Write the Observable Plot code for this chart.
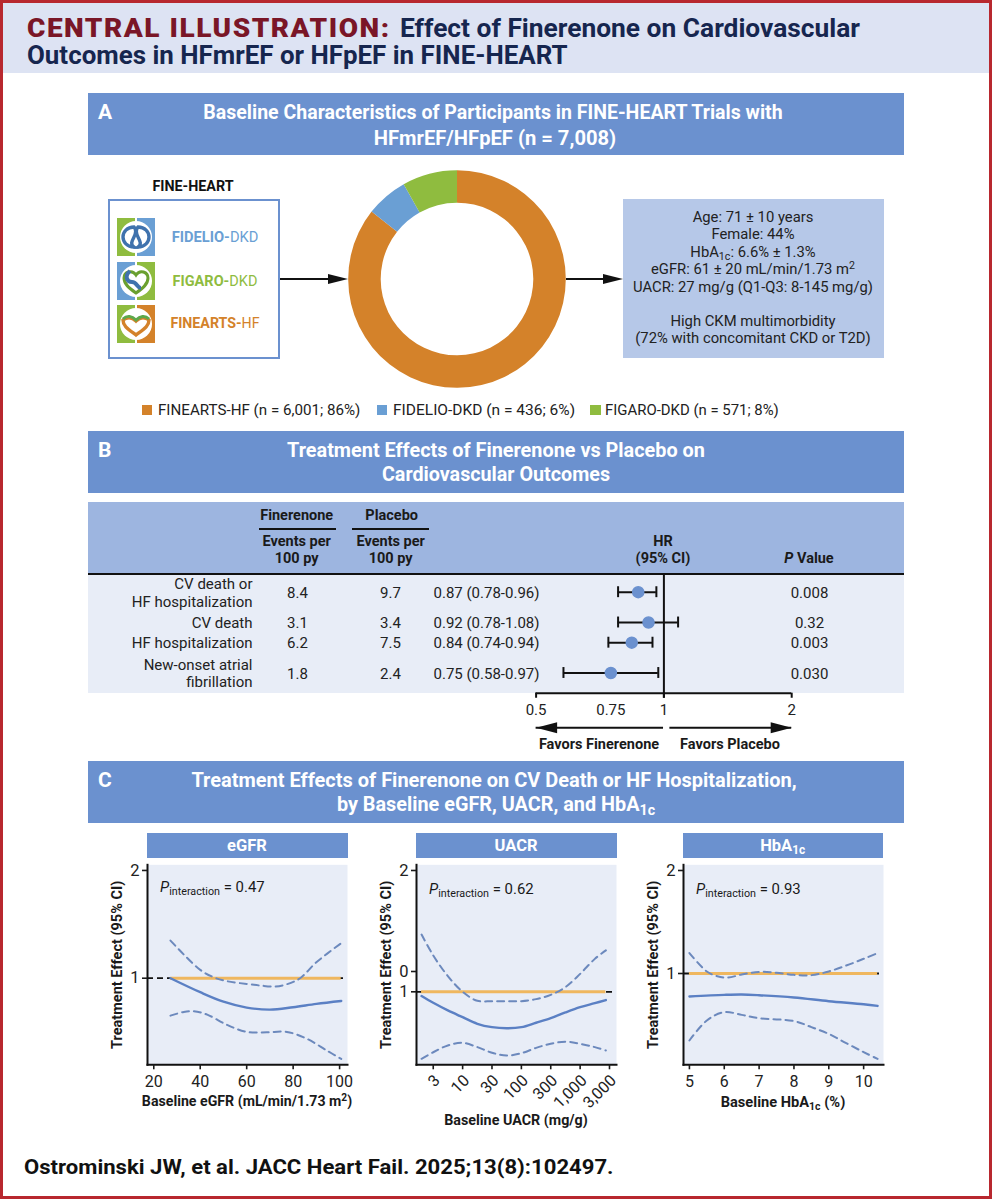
<!DOCTYPE html>
<html lang="en">
<head>
<meta charset="utf-8">
<title>Effect of Finerenone on Cardiovascular Outcomes in HFmrEF or HFpEF in FINE-HEART</title>
<script src="https://cdn.jsdelivr.net/npm/d3@7"></script>
<script src="https://cdn.jsdelivr.net/npm/@observablehq/plot@0.6"></script>
<style>
  html, body { margin: 0; padding: 0; background: #fff; }
  #page { position: relative; width: 992px; height: 1200px; overflow: hidden; background: #fff;
          font-family: Roboto, "Noto Sans", sans-serif; color: #1a1a1a; }
  #page > * { position: absolute; }
  .lab { white-space: nowrap; line-height: 1; }
  .lab sub { font-size: .72em; line-height: 0; vertical-align: -.28em; }
  .lab sup { font-size: .72em; line-height: 0; vertical-align: .42em; }
</style>
</head>
<body>
<div id="page"></div>
<script>
// ---------- DATA ----------
const trials = ["FINEARTS-HF", "FIDELIO-DKD", "FIGARO-DKD"];
const trialN = [6001, 436, 571];
const trialPct = [86, 6, 8];

const outcomes = ["CV death or\nHF hospitalization", "CV death", "HF hospitalization", "New-onset atrial\nfibrillation"];
const outcomeLines = [2, 1, 1, 2];
const finerenoneEvents = ["8.4", "3.1", "6.2", "1.8"];
const placeboEvents = ["9.7", "3.4", "7.5", "2.4"];
const hazardRatio = [0.87, 0.92, 0.84, 0.75];
const ciLow = [0.78, 0.78, 0.74, 0.58];
const ciHigh = [0.96, 1.08, 0.94, 0.97];
const pValues = ["0.008", "0.32", "0.003", "0.030"];
const hrTicks = [0.5, 0.75, 1, 2];
const hrStems = [0.5, 1, 2];

const egfrSolid = [[27.2,1.0],[40,0.914],[50,0.86],[60,0.828],[70,0.817],[80,0.83],[90,0.848],[100.7,0.864]];
const egfrUpper = [[27.2,1.274],[32.9,1.165],[40,1.055],[45.8,1.006],[51.5,0.981],[60,0.964],[65.9,0.954],[72.3,0.948],[77.3,0.962],[83,1.0],[90,1.108],[100.7,1.253]];
const egfrLower = [[27.2,0.786],[32.9,0.805],[37.2,0.809],[43,0.791],[51.5,0.741],[60,0.708],[68.7,0.706],[77.3,0.708],[86,0.677],[94.5,0.628],[100.7,0.595]];

const uacrSolid = [[2,0.976],[3.16,0.939],[5.6,0.899],[10,0.865],[17.8,0.833],[31.6,0.817],[56,0.812],[100,0.817],[178,0.838],[316,0.86],[562,0.889],[1000,0.916],[1778,0.937],[2740,0.954]];
const uacrUpper = [[2,1.387],[3.16,1.231],[5.6,1.094],[10,1.0],[17.8,0.95],[31.6,0.948],[56,0.948],[100,0.948],[178,0.959],[316,0.983],[562,1.027],[1000,1.108],[1778,1.207],[2740,1.267]];
const uacrLower = [[2,0.682],[3.16,0.708],[5.6,0.736],[10,0.747],[17.8,0.729],[31.6,0.706],[56,0.695],[100,0.704],[178,0.726],[316,0.743],[562,0.752],[1000,0.743],[1778,0.729],[2740,0.715]];

const hba1cSolid = [[5,0.857],[6,0.866],[6.5,0.868],[7,0.864],[8,0.851],[9,0.83],[10,0.813],[10.4,0.804]];
const hba1cUpper = [[5,1.147],[5.5,1.0135],[5.8,0.982],[6.1,0.973],[6.5,0.993],[7,1.011],[7.5,1.005],[8,0.991],[8.5,0.989],[9,1.014],[9.5,1.055],[10,1.104],[10.4,1.147]];
const hba1cLower = [[5,0.637],[5.5,0.729],[6,0.771],[6.5,0.757],[7,0.74],[8,0.726],[8.5,0.697],[9,0.666],[9.5,0.626],[10,0.589],[10.4,0.563]];

const egfrTicks = [20, 40, 60, 80, 100];
const uacrTicks = [3.16, 10, 31.6, 100, 316, 1000, 3160];
const uacrTickLabels = ["3", "10", "30", "100", "300", "1,000", "3,000"];
const hba1cTicks = [5, 6, 7, 8, 9, 10];

const baselineLines = ["Age: 71 ± 10 years", "Female: 44%", "HbA<sub>1c</sub>: 6.6% ± 1.3%",
  "eGFR: 61 ± 20 mL/min/1.73 m<sup>2</sup>", "UACR: 27 mg/g (Q1-Q3: 8-145 mg/g)"];
const morbidityLines = ["High CKM multimorbidity", "(72% with concomitant CKD or T2D)"];

// ---------- STYLE ----------
const FONT = "Roboto, 'Noto Sans', sans-serif";
const ORANGE = "#d4822a", BLUE = "#6a9fd4", GREEN = "#8fbc3f";
const HEADER = "#6b91cf", TABLEHEAD = "#9db5e0", PALE = "#e8edf7", INFO = "#b6c8e8";
const RED = "#b8282f", NAVY = "#16264f", MAROON = "#7a1627";
const LINEBLUE = "#5b80c4", DASHBLUE = "#6c89bd", REFLINE = "#efb75f";
const trialColor = Plot.scale({color: {domain: trials, range: [ORANGE, BLUE, GREEN]}});

const page = document.getElementById("page");
function box(x, y, w, h, css) {
  const d = document.createElement("div");
  d.style.cssText = `left:${x}px;top:${y}px;width:${w}px;height:${h}px;box-sizing:border-box;${css || ""}`;
  page.appendChild(d);
  return d;
}
function label(html, x, y, o = {}) {
  const d = document.createElement("div");
  d.className = "lab";
  d.innerHTML = html;
  const a = o.anchor || "middle";
  d.style.left = x + "px";
  d.style.top = y + "px";
  d.style.fontSize = (o.size || 15) + "px";
  d.style.fontWeight = o.weight || 400;
  d.style.color = o.color || "#1a1a1a";
  if (o.spacing) d.style.letterSpacing = o.spacing + "px";
  page.appendChild(d);
  const tx = a === "middle" ? "-50%" : a === "end" ? "-100%" : "0";
  let sx = "";
  if (o.fit) { sx = ` scaleX(${o.fit / d.offsetWidth})`; d.style.transformOrigin = a === "middle" ? "center" : a === "end" ? "right" : "left"; }
  d.style.transform = `translate(${tx},-50%)${sx}`;
  return d;
}
function place(svg, x, y) {
  svg.style.left = x + "px";
  svg.style.top = y + "px";
  svg.style.position = "absolute";
  page.appendChild(svg);
}

// ---------- FRAME & TITLE ----------
box(0, 0, 992, 73, "background:#dde3f3");
label("CENTRAL ILLUSTRATION:", 27, 27.5, {anchor: "start", size: 26, weight: 900, color: MAROON, spacing: 1.4, fit: 364});
label("Effect of Finerenone on Cardiovascular", 400, 27.5, {anchor: "start", size: 26, weight: 700, color: NAVY, fit: 460});
label("Outcomes in HFmrEF or HFpEF in FINE-HEART", 27, 55, {anchor: "start", size: 26, weight: 700, color: NAVY, fit: 541});

function sectionHeader(letter, y, lines) {
  box(88, y, 816, 62, `background:${HEADER}`);
  label(letter, 98, y + 19.5, {anchor: "start", size: 21, weight: 700, color: "#fff"});
  lines.forEach(l => label(l.t, l.c, y + l.dy, {size: 20.5, weight: 700, color: "#fff", fit: l.w}));
}
sectionHeader("A", 92.7, [
  {t: "Baseline Characteristics of Participants in FINE-HEART Trials with", c: 493, dy: 19.5, w: 579},
  {t: "HFmrEF/HFpEF (n = 7,008)", c: 495, dy: 45, w: 242}]);
sectionHeader("B", 430.7, [
  {t: "Treatment Effects of Finerenone vs Placebo on", c: 496, dy: 19.5, w: 418},
  {t: "Cardiovascular Outcomes", c: 496, dy: 43.5, w: 228}]);
sectionHeader("C", 760.7, [
  {t: "Treatment Effects of Finerenone on CV Death or HF Hospitalization,", c: 494, dy: 19.5, w: 605},
  {t: "by Baseline eGFR, UACR, and HbA<sub>1c</sub>", c: 496, dy: 43.5, w: 318}]);

// ---------- PANEL A ----------
label("FINE-HEART", 193, 186, {size: 15, weight: 700, color: "#111", fit: 81});
box(107.5, 198.5, 172, 160, `border:2px solid ${HEADER};background:#fff`);

const icons = [
  {left: GREEN, right: BLUE, y: 218.3,
   art: `<path d="M17 9c-7 0-11 5-11 10s4 10 11 10c-4-3-2-6 0-10s3-7 0-10z" fill="none" stroke="#3f72ad" stroke-width="3.4"/>
         <path d="M21 9c7 0 11 5 11 10s-4 10-11 10c4-3 2-6 0-10s-3-7 0-10z" fill="none" stroke="#3f72ad" stroke-width="3.4"/>`},
  {left: BLUE, right: GREEN, y: 262.3,
   art: `<path d="M19 31c-7-5-12-9-12-15 0-6 8-9 12-3 4-6 12-3 12 3 0 6-5 10-12 15z" fill="none" stroke="#6aa02f" stroke-width="3"/>
         <path d="M13 9c-6 5-3 11 2 11 5 0 5 6 9 6" fill="none" stroke="#3f72ad" stroke-width="4"/>`},
  {left: GREEN, right: ORANGE, y: 305,
   art: `<path d="M19 30C11 24 6 21 6 15c4-3 9-3 13 1 4-4 9-4 13-1 0 6-5 9-13 15z" fill="#fff" stroke="${ORANGE}" stroke-width="3.4"/>
         <path d="M6 14c4-4 9-3 13 1 4-4 9-5 13-1" fill="none" stroke="#5ea84a" stroke-width="3"/>`}
];
icons.forEach(ic => {
  const holder = box(117.3, ic.y, 38, 38, "");
  holder.innerHTML = `<svg width="38" height="38" viewBox="0 0 38 38" role="img" aria-hidden="true">
    <rect x="0" y="0" width="18" height="38" fill="${ic.left}"/>
    <rect x="20" y="0" width="18" height="38" fill="${ic.right}"/>
    <circle cx="19" cy="19" r="16" fill="#fff"/>${ic.art}</svg>`;
});
const trialNames = [
  ["FIDELIO-", "DKD", BLUE, 236.7, 87],
  ["FIGARO-", "DKD", GREEN, 280.7, 85],
  ["FINEARTS-", "HF", ORANGE, 323.3, 89]
];
trialNames.forEach(([a, b, c, y, w]) => label(`<b>${a}</b>${b}`, 215, y, {size: 15, color: c, fit: w}));

function arrowSvg(x1, x2, y) {
  const h = box(x1, y - 8, x2 - x1, 16, "");
  const w = x2 - x1;
  h.innerHTML = `<svg width="${w}" height="16" style="display:block" aria-hidden="true">
    <line x1="0" y1="8" x2="${w - 15}" y2="8" stroke="#111" stroke-width="2"/>
    <polygon points="${w - 20},3 ${w},8 ${w - 20},13" fill="#111"/></svg>`;
}
arrowSvg(280, 348, 279);
arrowSvg(566, 623, 279);

const slices = d3.pie().sort(null).value((d, i) => trialN[i])(trials);
const donut = Plot.plot({
  width: 220, height: 220, margin: 0,
  x: {axis: null, domain: [-1, 1]}, y: {axis: null, domain: [-1, 1]},
  style: {background: "transparent", overflow: "visible"},
  marks: [
    (index, scales, values, {width, height}) => {
      const arc = d3.arc().innerRadius(76.3).outerRadius(108.8);
      const g = d3.create("svg:g").attr("transform", `translate(${width / 2},${height / 2})`);
      g.selectAll("path").data(slices).join("path")
        .attr("d", arc)
        .attr("fill", d => trialColor.apply(d.data));
      return g.node();
    }
  ]
});
place(donut, 346.7, 169);

box(622.7, 199, 261.5, 158.5, `background:${INFO}`);
baselineLines.forEach((t, i) => label(t, 753, 217 + i * 17.45, {size: 14.8, color: "#222"}));
morbidityLines.forEach((t, i) => label(t, 753, 321 + i * 17.45, {size: 14.8, color: "#222"}));

const legendX = [[141.7, 157.7, 202], [376.7, 392.7, 182], [590, 605, 174]];
trials.forEach((t, i) => {
  box(legendX[i][0], 404.5, 10.5, 10.5, `background:${trialColor.apply(t)}`);
  label(`${t} (n = ${d3.format(",")(trialN[i])}; ${trialPct[i]}%)`, legendX[i][1], 409.5,
    {anchor: "start", size: 15, color: "#222", fit: legendX[i][2]});
});

// ---------- PANEL B ----------
box(88, 501.7, 816, 72, `background:${TABLEHEAD}`);
box(88, 573, 816, 120, `background:${PALE}`);
box(88, 572.6, 816, 2, "background:#111");
[["Finerenone", 296.7, 259.3], ["Placebo", 391.7, 351.7]].forEach(([t, c, x0]) => {
  label(t, c, 515.7, {size: 14.5, weight: 700, color: "#1a1a1a"});
  box(x0, 527.5, 77, 2, "background:#111");
  label("Events per", c + (t === "Placebo" ? -1 : 0), 541.5, {size: 14.5, weight: 700, color: "#1a1a1a"});
  label("100 py", c + (t === "Placebo" ? -1 : 0), 558.7, {size: 14.5, weight: 700, color: "#1a1a1a"});
});
label("HR", 663, 541.5, {size: 14.5, weight: 700});
label("(95% CI)", 663, 558.7, {size: 14.5, weight: 700});
label("<i>P</i> Value", 809, 558.7, {size: 14.5, weight: 700});

// row position = centre of the row measured in text lines
let lineCursor = 0;
const forestRows = outcomes.map((o, i) => {
  const pos = lineCursor + outcomeLines[i] / 2;
  lineCursor += outcomeLines[i];
  return {outcome: o, pos, fin: finerenoneEvents[i], pla: placeboEvents[i],
    hr: hazardRatio[i], lo: ciLow[i], hi: ciHigh[i], p: pValues[i],
    hrText: `${hazardRatio[i].toFixed(2)} (${ciLow[i].toFixed(2)}-${ciHigh[i].toFixed(2)})`};
});
const triangle = {draw(c, l, r) { c.moveTo(0, -l); c.lineTo(r, 0); c.lineTo(-r, 0); c.closePath(); }};
const col = (field, dx, textAnchor) => Plot.text(forestRows, {
  text: field, y: "pos", frameAnchor: "left", dx, textAnchor, fontSize: 15, lineHeight: 1.167, fill: "#222"
});
const axisLine = 6, stemEnd = 6.25, favorsLine = 7.71;
const forest = Plot.plot({
  width: 816, height: 260, marginLeft: 0, marginRight: 0, marginTop: 0, marginBottom: 68.3,
  x: {type: "log", domain: [0.5, 2], range: [447.6, 703.2]},
  y: {domain: [0, 6], range: [70.5, 191.7], axis: null},
  style: {background: "transparent", fontFamily: FONT, overflow: "visible"},
  marks: [
    col("outcome", 164, "end"),
    col("fin", 209, "middle"),
    col("pla", 302, "middle"),
    col("hrText", 345, "start"),
    col("p", 721, "middle"),
    Plot.ruleY([axisLine], {x1: hrStems[0], x2: hrStems[2], stroke: "#111", strokeWidth: 2}),
    Plot.ruleX(hrStems, {x: d => d, y1: axisLine, y2: stemEnd, stroke: "#111", strokeWidth: 2}),
    Plot.ruleX([1], {y1: 0.1, y2: stemEnd, stroke: "#111", strokeWidth: 2}),
    Plot.ruleY(forestRows, {x1: "lo", x2: "hi", y: "pos", stroke: "#111", strokeWidth: 2}),
    Plot.ruleX(forestRows, {x: "lo", y1: d => d.pos - 0.27, y2: d => d.pos + 0.27, stroke: "#111", strokeWidth: 2}),
    Plot.ruleX(forestRows, {x: "hi", y1: d => d.pos - 0.27, y2: d => d.pos + 0.27, stroke: "#111", strokeWidth: 2}),
    Plot.dot(forestRows, {x: "hr", y: "pos", r: 5.5, fill: HEADER, stroke: HEADER}),
    Plot.axisX({ticks: hrTicks, tickFormat: d => String(d), tickSize: 0, tickPadding: 11, fontSize: 15, fill: "#222", label: null}),
    Plot.ruleY([favorsLine], {x1: 0.5, x2: 0.998, stroke: "#111", strokeWidth: 2}),
    Plot.ruleY([favorsLine], {x1: 1.033, x2: 2, stroke: "#111", strokeWidth: 2}),
    Plot.vector([0.5], {x: d => d, y: () => favorsLine, rotate: 270, length: 21, r: 5.5, anchor: "end", shape: triangle, fill: "#111", stroke: "none"}),
    Plot.vector([2], {x: d => d, y: () => favorsLine, rotate: 90, length: 21, r: 5.5, anchor: "end", shape: triangle, fill: "#111", stroke: "none"})
  ]
});
place(forest, 88, 501);
label("Favors Finerenone", 599, 745, {size: 14.5, weight: 700});
label("Favors Placebo", 730, 745, {size: 14.5, weight: 700});

// ---------- PANEL C ----------
function splinePanel(o) {
  box(o.left, 832.7, 200.5, 25.7, `background:${HEADER}`);
  label(o.name, o.left + 100, 846, {size: 16.5, weight: 700, color: "#fff"});
  const refEnds = [o.solid[0][0], o.solid[o.solid.length - 1][0]];
  const chart = Plot.plot({
    width: 265, height: 300, marginLeft: 47, marginRight: 18, marginTop: 34.3, marginBottom: 65.7,
    x: {type: o.xType, domain: o.xDomain},
    y: {type: "log", base: 2, domain: o.yDomain},
    style: {background: "transparent", fontFamily: FONT, overflow: "visible"},
    marks: [
      Plot.frame({fill: PALE, stroke: "none"}),
      Plot.ruleY([1], {stroke: "#111", strokeWidth: 1.8, strokeDasharray: "6,4"}),
      Plot.ruleY([1], {x1: refEnds[0], x2: refEnds[1], stroke: REFLINE, strokeWidth: 3}),
      Plot.line(o.upper, {x: "0", y: "1", stroke: DASHBLUE, strokeWidth: 2, strokeDasharray: "7,5", curve: "catmull-rom"}),
      Plot.line(o.lower, {x: "0", y: "1", stroke: DASHBLUE, strokeWidth: 2, strokeDasharray: "7,5", curve: "catmull-rom"}),
      Plot.line(o.solid, {x: "0", y: "1", stroke: LINEBLUE, strokeWidth: 2.4, curve: "catmull-rom"}),
      Plot.frame({anchor: "left", stroke: "#111", strokeWidth: 2}),
      Plot.frame({anchor: "bottom", stroke: "#111", strokeWidth: 2}),
      Plot.axisY({ticks: o.yTicks, tickFormat: o.yFormat, tickSize: 5, tickPadding: 3, fontSize: 16.5, label: null, strokeWidth: 1.6, fill: "#222"}),
      Plot.axisX({ticks: o.xTicks, tickFormat: () => "", tickSize: 5, label: null, strokeWidth: 1.6}),
      Plot.axisX({ticks: o.xTicks, tickFormat: o.xFormat, tickSize: 0, tickPadding: o.rotate ? 9 : 11, fontSize: 16,
        tickRotate: o.rotate || 0, dx: o.rotate ? 4 : 0, dy: o.rotate ? 4 : 0, label: null, fill: "#222"}),
      Plot.text(["Treatment Effect (95% CI)"], {frameAnchor: "left", textAnchor: "middle", dx: -30, rotate: -90, fontSize: 14.5, fontWeight: 700, fill: "#1a1a1a"})
    ]
  });
  place(chart, o.left - 47, 830);
  label(`<i>P</i><sub>interaction</sub> = ${o.pInteraction}`, o.pX, o.pY, {anchor: "start", size: 15.5, color: "#1a1a1a", fit: 105});
  label(o.xTitle, o.titleX, o.titleY, {size: 14.5, weight: 700, color: "#1a1a1a", fit: o.titleW});
}

splinePanel({
  name: "eGFR", left: 147, xType: "linear", xDomain: [17.3, 103.4],
  yDomain: [0.573, 2.074], yTicks: [1, 2], yFormat: d => String(d),
  xTicks: egfrTicks, xFormat: d => String(d),
  solid: egfrSolid, upper: egfrUpper, lower: egfrLower,
  pInteraction: "0.47", pX: 160, pY: 888,
  xTitle: "Baseline eGFR (mL/min/1.73 m<sup>2</sup>)", titleX: 246.7, titleY: 1102.3, titleW: 210
});
const uacrYTicks = [1, 1.123, 2];
const uacrYLabels = ["1", "0", "2"];
splinePanel({
  name: "UACR", left: 416, xType: "log", xDomain: [1.64, 4159],
  yDomain: [0.659, 2.066], yTicks: uacrYTicks, yFormat: d => uacrYLabels[uacrYTicks.indexOf(d)],
  xTicks: uacrTicks, xFormat: d => uacrTickLabels[uacrTicks.indexOf(d)], rotate: -45,
  solid: uacrSolid, upper: uacrUpper, lower: uacrLower,
  pInteraction: "0.62", pX: 429.3, pY: 890,
  xTitle: "Baseline UACR (mg/g)", titleX: 515.7, titleY: 1120.7, titleW: 144
});
splinePanel({
  name: "HbA<sub>1c</sub>", left: 682.7, xType: "linear", xDomain: [4.83, 10.57],
  yDomain: [0.541, 2.078], yTicks: [1, 2], yFormat: d => String(d),
  xTicks: hba1cTicks, xFormat: d => String(d),
  solid: hba1cSolid, upper: hba1cUpper, lower: hba1cLower,
  pInteraction: "0.93", pX: 695.7, pY: 890,
  xTitle: "Baseline HbA<sub>1c</sub> (%)", titleX: 782.7, titleY: 1103, titleW: 125
});

// ---------- CITATION & BORDER ----------
label("Ostrominski JW, et al. JACC Heart Fail. 2025;13(8):102497.", 24, 1167, {anchor: "start", size: 21, weight: 700, color: "#111", fit: 590});
box(0, 0, 992, 1199, `border:3px solid ${RED};pointer-events:none`);
</script>
</body>
</html>
